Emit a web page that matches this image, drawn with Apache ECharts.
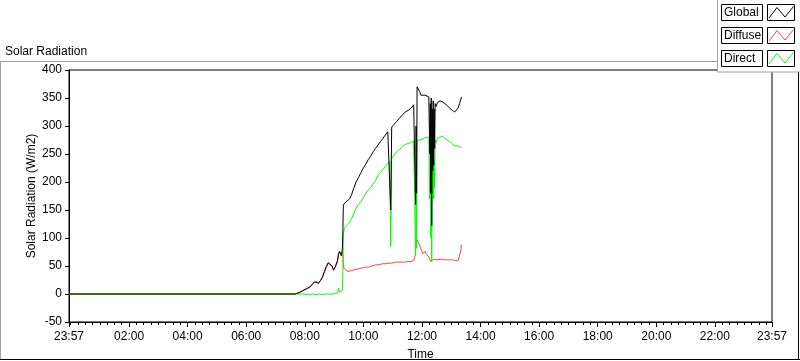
<!DOCTYPE html>
<html><head><meta charset="utf-8">
<script src="https://cdn.jsdelivr.net/npm/echarts@6/dist/echarts.min.js"></script>
<style>html,body{margin:0;padding:0;background:#fff}#c{width:800px;height:361px}</style>
</head><body><div id="c"></div>
<script>
// ---- data (times as HH:MM, first point is 23:57 of the previous day) ----
var times = ["23:57","07:40","07:50","07:56","08:05","08:10","08:16","08:20","08:23","08:28","08:32","08:36","08:40","08:44","08:48","08:52","08:56","08:59","09:03","09:07","09:09","09:11","09:13","09:15","09:17","09:18","09:19","09:21","09:24","09:28","09:32","09:36","09:40","09:45","09:50","09:55","10:00","10:05","10:10","10:15","10:20","10:25","10:30","10:35","10:40","10:45","10:50","10:54","10:56","10:58","11:03","11:08","11:14","11:20","11:26","11:32","11:38","11:43","11:46","11:47","11:48","11:49","11:50","11:52","11:55","11:58","12:02","12:06","12:10","12:14","12:16","12:17","12:18","12:19","12:20","12:21","12:22","12:23","12:24","12:25","12:26","12:27","12:29","12:32","12:37","12:42","12:47","12:52","12:57","13:02","13:07","13:11","13:14","13:17","13:19","13:21"];
var globalVals = [0,0,3,6,10,12,18,22,22,19,24,30,40,49,56,54,50,43,50,60,72,76,74,68,80,115,160,162,164,166,170,178,188,200,208,217,225,232,240,246,254,260,266,272,278,284,290,293,150,298,303,308,314,320,325,328,332,338,340,160,300,180,370,372,362,355,356,355,358,352,250,340,180,350,122,330,220,345,230,330,260,340,335,342,345,343,340,336,332,328,325,328,332,340,342,352];
var diffuseVals = [0,0,3,6,10,12,18,21,22,19,24,29,38,47,55,52,49,42,49,58,70,74,73,72,75,70,50,45,42,40,41,42,43,44,45,46,47,48,48,49,51,52,52,53,54,54,55,55,55,56,56,57,57,57,57,58,58,60,68,80,92,98,100,97,88,80,72,76,70,66,62,60,58,56,55,58,60,62,64,63,62,62,61,62,62,62,61,61,61,61,60,60,60,62,75,88];
var directVals = [0,0,0,0,-1,-1,0,-1,-1,0,0,-1,-1,0,1,0,0,0,1,2,10,3,2,5,7,40,105,118,121,124,128,135,143,153,160,165,172,180,186,190,196,203,212,217,222,228,233,237,85,242,248,254,258,264,267,269,270,273,272,70,200,82,270,275,274,275,278,279,282,280,170,270,100,275,58,250,180,265,170,240,190,275,270,278,280,282,278,275,272,268,265,265,264,263,262,261];
var seriesNames = ["Global","Diffuse","Direct"];
var seriesColors = ["#000000","#ff3f3f","#00ff00"];
var xMin = -0.05, xMax = 23.95;
var xLabelHours = [-0.05,2,4,6,8,10,12,14,16,18,20,22,23.95];

function toHours(s){var p=s.split(":");var h=+p[0]+p[1]/60;if(+p[0]>=23&&h>23.9)h-=24;return h;}
function fmt(h){var m=Math.round((h+24)*60)%1440;var hh=Math.floor(m/60),mm=m%60;return (hh<10?"0":"")+hh+":"+(mm<10?"0":"")+mm;}
var hrs = times.map(toHours);
function pairs(v){return hrs.map(function(h,i){return [h,v[i]];});}
var minorTicks=[];for(var q=0;q<96;q++)minorTicks.push(q*0.25);

var F = "'Liberation Sans', Arial, sans-serif";
var chart = echarts.init(document.getElementById('c'), null, {renderer:'canvas'});

var legendGraphics = [];
legendGraphics.push({type:'rect',shape:{x:717.5,y:-1,width:90,height:73},style:{fill:'#fff',stroke:'#a0a0a0',lineWidth:1},z:100});
seriesNames.forEach(function(n,i){
  var y0 = 4.5 + i*23;
  legendGraphics.push({type:'rect',shape:{x:721.5,y:y0,width:41,height:16},style:{fill:'#fff',stroke:'#000',lineWidth:1},z:101});
  legendGraphics.push({type:'text',x:724,y:y0+8,style:{text:n,font:'12px '+F,fill:'#000',verticalAlign:'middle'},z:102});
  legendGraphics.push({type:'rect',shape:{x:767.5,y:y0,width:27,height:16},style:{fill:'#fff',stroke:'#000',lineWidth:1},z:101});
  legendGraphics.push({type:'polyline',shape:{points:[[769,y0+13.5],[777,y0+3],[785,y0+12.5],[793.5,y0+2]]},style:{stroke:seriesColors[i],lineWidth:1,fill:null},z:102});
});

var option = {
  backgroundColor:'#fff',
  animation:false,
  title:{text:'Solar Radiation',left:5,top:46,padding:0,textStyle:{fontFamily:F,fontSize:12,fontWeight:'normal',color:'#000'}},
  grid:{left:69,right:28,top:70,bottom:39,show:true,borderColor:'#000',borderWidth:1,backgroundColor:'#fff',outerBoundsMode:'none',containLabel:false},
  xAxis:[{
    type:'value',min:xMin,max:xMax,position:'bottom',
    name:'Time',nameLocation:'middle',nameGap:27,nameMoveOverlap:false,
    nameTextStyle:{fontFamily:F,fontSize:12,color:'#000'},
    axisLine:{show:true,onZero:false,lineStyle:{color:'#000'}},
    axisTick:{show:true,length:5,lineStyle:{color:'#000'},customValues:xLabelHours},
    axisLabel:{fontFamily:F,fontSize:12,color:'#000',margin:9,customValues:xLabelHours,formatter:function(v){return fmt(v);}},
    splitLine:{show:false}
  },{
    type:'value',min:xMin,max:xMax,position:'bottom',gridIndex:0,
    axisLine:{show:false,onZero:false},
    axisTick:{show:true,length:3,lineStyle:{color:'#000'},customValues:minorTicks},
    axisLabel:{show:false,customValues:minorTicks},
    splitLine:{show:false}
  }],
  yAxis:{
    type:'value',min:-50,max:400,interval:50,
    name:'Solar Radiation (W/m2)',nameLocation:'middle',nameGap:31,nameMoveOverlap:false,
    nameTextStyle:{fontFamily:F,fontSize:12,color:'#000'},
    axisLine:{show:true,onZero:false,lineStyle:{color:'#000'}},
    axisTick:{show:true,length:4,lineStyle:{color:'#000'}},
    axisLabel:{fontFamily:F,fontSize:12,color:'#000',margin:7},
    splitLine:{show:false}
  },
  graphic:[
    {type:'line',shape:{x1:0,y1:61.5,x2:800,y2:61.5},style:{stroke:'#a0a0a0',lineWidth:1},z:50},
    {type:'line',shape:{x1:0.5,y1:61,x2:0.5,y2:360},style:{stroke:'#a0a0a0',lineWidth:1},z:50},
    {type:'line',shape:{x1:0,y1:359.5,x2:800,y2:359.5},style:{stroke:'#000',lineWidth:1},z:50},
    {type:'line',shape:{x1:798.5,y1:61,x2:798.5,y2:360},style:{stroke:'#000',lineWidth:1},z:50}
  ].concat(legendGraphics),
  series:[
    {name:seriesNames[1],type:'line',data:pairs(diffuseVals),showSymbol:false,lineStyle:{color:seriesColors[1],width:1},itemStyle:{color:seriesColors[1]},z:2},
    {name:seriesNames[2],type:'line',data:pairs(directVals),showSymbol:false,lineStyle:{color:seriesColors[2],width:1},itemStyle:{color:seriesColors[2]},z:3},
    {name:seriesNames[0],type:'line',data:pairs(globalVals),showSymbol:false,lineStyle:{color:seriesColors[0],width:1},itemStyle:{color:seriesColors[0]},z:4}
  ]
};
chart.setOption(option);
</script></body></html>
